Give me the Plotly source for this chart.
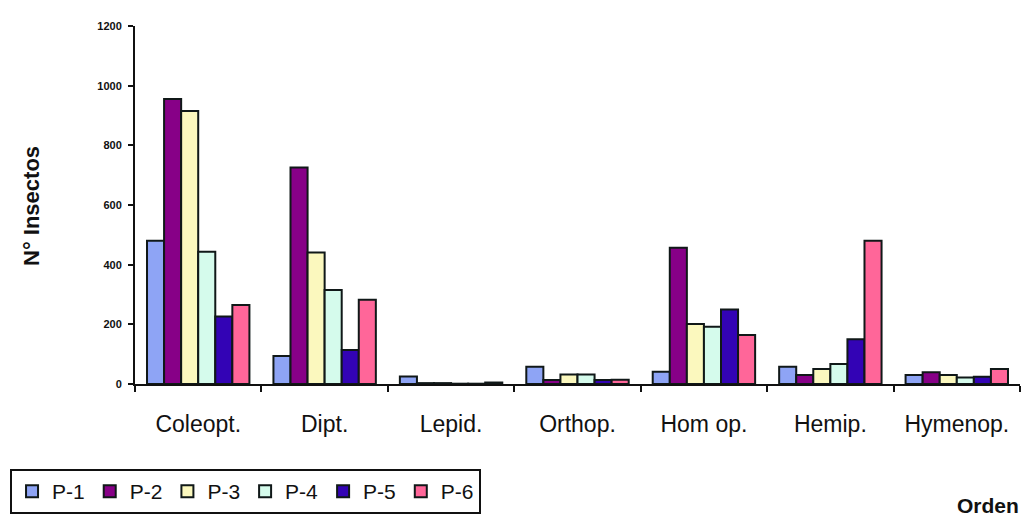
import plotly.graph_objects as go

# Insect counts per order for each sampling plot
orders = ["Coleopt.", "Dipt.", "Lepid.", "Orthop.", "Hom op.", "Hemip.", "Hymenop."]
series_names = ["P-1", "P-2", "P-3", "P-4", "P-5", "P-6"]
p1 = [480, 94, 25, 58, 41, 58, 30]
p2 = [955, 726, 3, 13, 457, 30, 39]
p3 = [915, 441, 3, 32, 201, 50, 30]
p4 = [443, 315, 1, 32, 192, 67, 22]
p5 = [226, 114, 1, 13, 250, 150, 24]
p6 = [265, 282, 5, 14, 164, 480, 50]
values = [p1, p2, p3, p4, p5, p6]
colors = ["#8EA4F5", "#870087", "#FBF8BE", "#D5FBEC", "#3303B5", "#FF6699"]
y_ticks = [0, 200, 400, 600, 800, 1000, 1200]

FONT = "Liberation Sans, Arial, sans-serif"

fig = go.Figure()
for name, vals, col in zip(series_names, values, colors):
    fig.add_trace(go.Bar(
        x=orders, y=vals, name=name,
        marker=dict(color=col, line=dict(color="#101818", width=2)),
    ))

fig.update_layout(
    width=1029, height=516,
    margin=dict(l=135, r=9, t=26, b=132, autoexpand=False),
    paper_bgcolor="white", plot_bgcolor="white",
    barmode="group", bargap=0.19, bargroupgap=0,
    font=dict(family=FONT, color="#111"),
    showlegend=True,
    legend=dict(
        orientation="h",
        x=-0.1412, xanchor="left",
        y=(384 - 514) / 358, yanchor="bottom",
        bgcolor="white", bordercolor="#111", borderwidth=2,
        font=dict(size=21, family=FONT, color="#111"),
        traceorder="normal",
    ),
    xaxis=dict(
        showline=True, linecolor="#111", linewidth=2,
        ticks="outside", tickson="boundaries", ticklen=6, tickwidth=2, tickcolor="#111",
        tickfont=dict(size=23, family=FONT, color="#111"),
        ticklabelstandoff=18,
        showgrid=False, zeroline=False,
    ),
    yaxis=dict(
        range=[0, 1200], tickvals=y_ticks,
        showline=True, linecolor="#111", linewidth=2,
        ticks="outside", ticklen=5, tickwidth=2, tickcolor="#111",
        tickfont=dict(size=11, family=FONT, color="#111", weight="bold"),
        ticklabelstandoff=4,
        showgrid=False, zeroline=False,
    ),
    annotations=[
        dict(text="<b>N° Insectos</b>", xref="paper", yref="paper",
             x=(31 - 135) / 885, y=(384 - 206) / 358, textangle=-90,
             showarrow=False, font=dict(size=22, family=FONT, color="#111"),
             xanchor="center", yanchor="middle"),
        dict(text="<b>Orden</b>", xref="paper", yref="paper",
             x=(988 - 135) / 885, y=(384 - 506) / 358,
             showarrow=False, font=dict(size=21, family=FONT, color="#111"),
             xanchor="center", yanchor="middle"),
    ],
)

fig.write_html("out.html")
